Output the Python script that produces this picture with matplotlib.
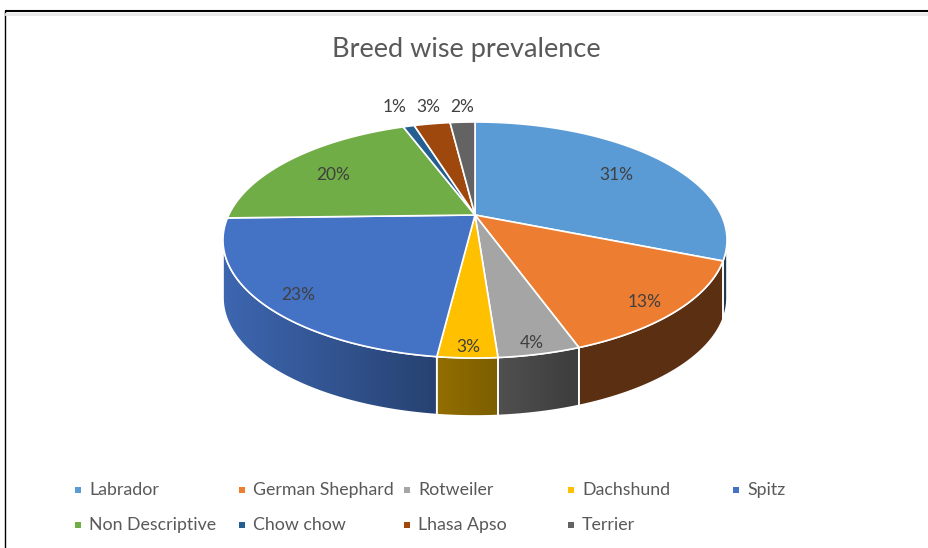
import numpy as np
import matplotlib.pyplot as plt
from matplotlib.patches import Polygon
from matplotlib.colors import to_rgb

# slice shares (labels show the rounded percent)
breeds = ['Labrador', 'German Shephard', 'Rotweiler', 'Dachshund', 'Spitz',
          'Non Descriptive', 'Chow chow', 'Lhasa Apso', 'Terrier']
share = [31.0, 13.4, 4.4, 3.2, 22.6, 19.6, 0.9, 2.9, 2.0]
colors = ['#5B9BD5', '#ED7D31', '#A5A5A5', '#FFC000', '#4472C4',
          '#70AD47', '#255E91', '#9E480E', '#636363']
title = 'Breed wise prevalence'

plt.rcParams['font.family'] = ['Lato', 'DejaVu Sans']

W, H = 929, 548
fig = plt.figure(figsize=(W / 100, H / 100), dpi=100)
ax = fig.add_axes([0, 0, 1, 1])
ax.set_xlim(0, W)
ax.set_ylim(H, 0)
ax.axis('off')

# pie geometry in pixels
cx, cy = 475, 240
a, b = 252, 118
apex_dy = 25      # wedges meet a bit above the ellipse centre
depth = 58


def rim_param(theta):
    # ray from the apex meets the ellipse -> ellipse parameter
    dx, dy = a * np.sin(theta), -b * np.cos(theta)
    A = (dx / a) ** 2 + (dy / b) ** 2
    B = -2 * apex_dy * dy / b ** 2
    C = (apex_dy / b) ** 2 - 1
    t = (-B + np.sqrt(B * B - 4 * A * C)) / (2 * A)
    x, y = t * dx, -apex_dy + t * dy
    return np.arctan2(x / a, -y / b)


def rim(psi, drop=0):
    return cx + a * np.sin(psi), cy - b * np.cos(psi) + drop


def shade(psi):
    return np.clip(0.52 - 0.38 * np.sin(psi), 0.38, 0.92)


vals = np.array(share)
cum = np.concatenate([[0], np.cumsum(vals)]) / vals.sum()
thetas = 2 * np.pi * cum
psis = np.unwrap([rim_param(t) for t in thetas])
psis[0], psis[-1] = 0, 2 * np.pi

# side walls, shaded left (light) to right (dark)
for i in range(len(vals)):
    lo = max(psis[i], np.pi / 2)
    hi = min(psis[i + 1], 3 * np.pi / 2)
    if hi <= lo:
        continue
    base = np.array(to_rgb(colors[i]))
    pp = np.linspace(lo, hi, 100)
    xs, ys = rim(pp)
    xb, yb = rim(pp[::-1], depth)
    poly = Polygon(np.column_stack([np.r_[xs, xb], np.r_[ys, yb]]),
                   closed=True, fc='none', ec='white', lw=1.2, zorder=2)
    x0, x1 = xs.min(), xs.max()
    y0, y1 = ys.min(), yb.max()
    gx = np.linspace(x0, x1, 200)
    gpsi = np.pi - np.arcsin(np.clip((gx - cx) / a, -1, 1))
    img = (base[None, :] * shade(gpsi)[:, None])[None, :, :]
    im = ax.imshow(img, extent=[x0, x1, y1, y0], aspect='auto',
                   interpolation='bilinear', zorder=1)
    ax.add_patch(poly)
    im.set_clip_path(poly)

# top faces
for i in range(len(vals)):
    pp = np.linspace(psis[i], psis[i + 1], 120)
    xs, ys = rim(pp)
    pts = np.column_stack([np.r_[cx, xs], np.r_[cy - apex_dy, ys]])
    ax.add_patch(Polygon(pts, closed=True, fc=colors[i], ec='white', lw=1.2, zorder=3))

# data labels
outside = []
for i in range(len(vals)):
    tm = (thetas[i] + thetas[i + 1]) / 2
    txt = f'{round(vals[i] / vals.sum() * 100)}%'
    if vals[i] < 3.5 and np.cos(tm) > 0.5:
        x, _ = rim((psis[i] + psis[i + 1]) / 2)
        outside.append([x, txt])
        continue
    r = 0.68 + 0.4 * max(0, -np.cos(tm))
    ax.text(cx + r * a * np.sin(tm), cy - r * b * np.cos(tm) - 20, txt,
            ha='center', va='center', fontsize=12.5, color='#404040', zorder=5)
# spread the small back labels so they do not collide
for j in range(len(outside) - 2, -1, -1):
    outside[j][0] = min(outside[j][0], outside[j + 1][0] - 34)
for x, txt in outside:
    ax.text(x, cy - b - 15, txt, ha='center', va='center',
            fontsize=12.5, color='#404040', zorder=5)

ax.text(466, 50, title, ha='center', va='center', fontsize=19.5, color='#595959')

# legend, laid out in rows like the original
col_x = [78, 242, 407, 571, 736]
row_y = [490, 525]
for i, name in enumerate(breeds):
    x, y = col_x[i % 5], row_y[i // 5]
    ax.scatter([x], [y], marker='s', s=20, color=colors[i], linewidths=0)
    ax.text(x + 11, y, name, ha='left', va='center', fontsize=12.8, color='#595959')

# chart frame
ax.plot([5, W], [11, 11], color='black', lw=1.5, solid_capstyle='butt')
ax.plot([5, 5], [11, H], color='black', lw=1.0)
ax.plot([6, W], [14, 14], color='#e8e8e8', lw=2)

ax.set_xlim(0, W)
ax.set_ylim(H, 0)
fig.savefig('out.png', dpi=100)
